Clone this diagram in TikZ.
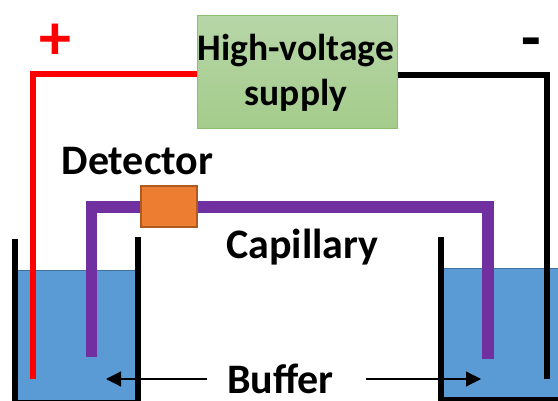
\documentclass[tikz,border=0pt]{standalone}
\usepackage{fontspec}
\setmainfont{Carlito}
\usetikzlibrary{arrows.meta}
\definecolor{waterblue}{HTML}{5B9BD5}
\definecolor{wateredge}{HTML}{41719C}
\definecolor{boxedge}{HTML}{8CC06C}
\definecolor{detfill}{HTML}{ED7D31}
\definecolor{detedge}{HTML}{AE5A21}
\definecolor{capcolor}{HTML}{7030A0}
\definecolor{gtop}{HTML}{B7D6A8}
\definecolor{gbot}{HTML}{A4CC8B}
\tikzset{
  label text/.style={font=\bfseries\fontsize{42}{50}\selectfont, text=black, inner sep=0pt, align=center},
  supply text/.style={font=\bfseries\fontsize{37.5}{45}\selectfont, text=black, inner sep=0pt, align=center},
  sign text/.style={font=\bfseries\fontsize{64}{64}\selectfont, inner sep=0pt},
  wire/.style={line width=6pt, line join=miter},
  capline/.style={line width=11.5pt, draw=capcolor, line join=miter},
  wall/.style={line width=6pt, draw=black},
  water/.style={fill=waterblue, draw=wateredge, line width=1pt},
  pointer/.style={line width=1.2pt, -{Triangle[length=15pt,width=15pt]}}
}
\begin{document}
\begin{tikzpicture}[x=1pt,y=-1pt]
\useasboundingbox (0,0) rectangle (558,401);
\begin{scope}
\clip (0,0) rectangle (558,401);
% buffers
\path[water] (15,271) rectangle (138,403);
\path[water] (441,269) rectangle (560,403);
% beaker walls
\draw[wall,line join=miter] (14.7,239) -- (14.7,402.7) -- (138,402.7) -- (138,237);
\draw[wall,line join=miter] (441,237) -- (441,400.3) -- (560,400.3);
\end{scope}
% supply
\node[draw=boxedge, line width=1pt, top color=gtop, bottom color=gbot, minimum width=200pt, minimum height=113pt, inner sep=0pt, anchor=north west] (supply) at (197,15) {};
\node[supply text] (supplytext) at (296,72.5) {High-voltage\\supply};
% detector
\node[draw=detedge, fill=detfill, line width=2pt, minimum width=56pt, minimum height=41pt, inner sep=0pt, anchor=north west] (det) at (139.5,185.5) {};
% wires
\coordinate (redend) at (33.3,379);
\coordinate (blackend) at (546.7,379);
\draw[wire,red] (supply.west |- 0,74) -- (redend |- 0,74) -- (redend);
\draw[wire,black] (supply.east |- 0,75) -- (blackend |- 0,75) -- (blackend);
% capillary
\coordinate (capleft) at (91.7,357);
\coordinate (capright) at (488,359);
\draw[capline] (capleft) -- (capleft |- 0,207) -- (det.west |- 0,207);
\draw[capline] (det.east |- 0,207) -- (capright |- 0,207) -- (capright);
% labels
\node[label text] (detlabel) at (137.5,161) {Detector};
\node[label text] (caplabel) at (302.5,247) {Capillary};
\node[label text] (buflabel) at (280.5,379) {Buffer};
\node[sign text, text=red] (plus) at (55,42) {+};
\node[sign text, text=black] (minus) at (531,49) {-};
% pointers
\coordinate (ltip) at (106,379);
\coordinate (rtip) at (481,379);
\draw[pointer] (207,379) -- (ltip);
\draw[pointer] (366,379) -- (rtip);
\end{tikzpicture}
\end{document}
